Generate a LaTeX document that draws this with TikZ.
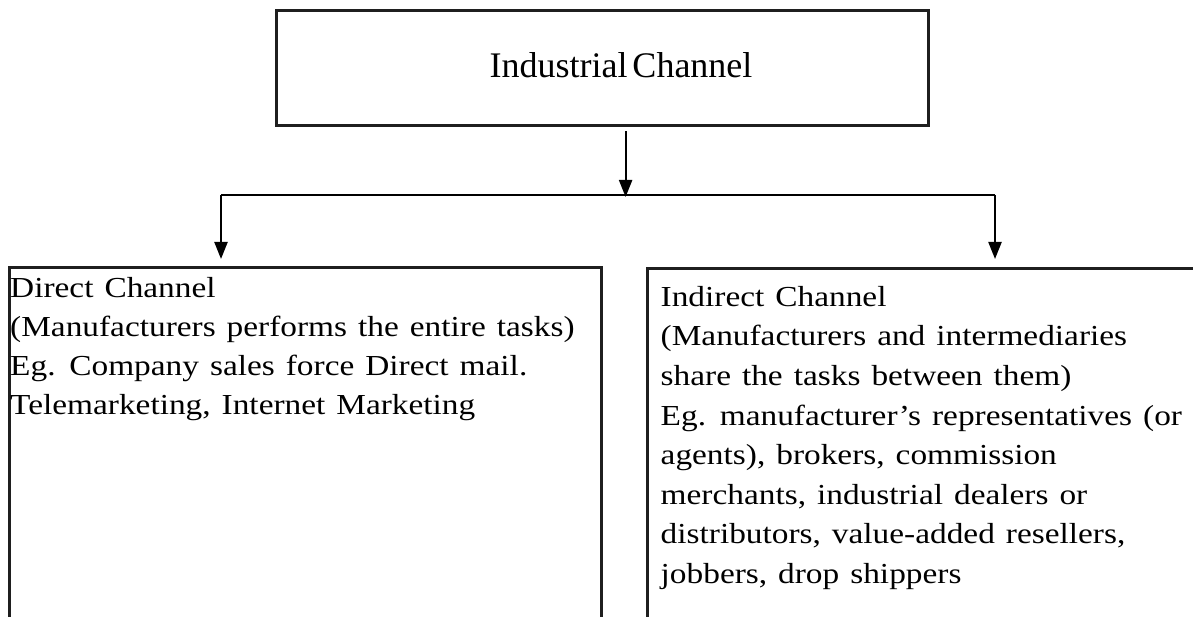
\documentclass[tikz,border=0pt]{standalone}
\usepackage{fontspec}
\setmainfont{Liberation Serif}
\newfontfamily\bodyfont[FakeStretch=1.15]{Liberation Serif}
\usetikzlibrary{arrows.meta}

% body text setting: slightly widened serif with roomy word spaces
\newcommand\bodyset[1]{\bodyfont\fontsize{29}{#1}\selectfont\spaceskip=11pt\relax}

\tikzset{
  boxline/.style={line width=3pt, draw=black!88},
  conn/.style={line width=2.2pt, draw=black},
  arr/.style={conn, -{Triangle[width=13pt,length=17pt]}},
  title/.style={inner sep=0pt, font=\fontsize{36}{40}\selectfont},
  body/.style={inner sep=0pt, align=left, anchor=north west},
}

\begin{document}
\begin{tikzpicture}[x=1pt, y=-1pt]
\useasboundingbox (0,0) rectangle (1193,617);
\clip (0,0) rectangle (1193,617);

% top box and its title
\node[boxline, draw, minimum width=652pt, minimum height=115pt, inner sep=0pt]
  (ic) at (602,68.5) {};
\node[title, anchor=base] (ictext) at (621,78) {\spaceskip=5pt\relax Industrial Channel};

% branching points
\coordinate (fork)  at (625.6,195);
\coordinate (dirin) at (221,259);
\coordinate (indin) at (995,259);

% connectors
\draw[arr] ([yshift=-4pt]ic.south -| fork) -- ([yshift=-2pt]fork);
\draw[conn, line width=2.8pt] (dirin |- fork) -- (indin |- fork);
\draw[arr] (dirin |- fork) -- (dirin);
\draw[arr] (indin |- fork) -- (indin);

% open boxes below
\draw[boxline] (9,630) -- (9,268) -- (601,268) -- (601,630);
\draw[boxline] (647,630) -- (647,269) -- (1210,269);

% box texts
\node[body, font=\bodyset{39}] (direct) at (10,267.7) {%
\rule{0pt}{30pt}Direct Channel\\
(Manufacturers performs the entire tasks)\\
Eg. Company sales force Direct mail.\\
Telemarketing, Internet Marketing};

\node[body, font=\bodyset{39.6}] (indirect) at (660.5,276) {%
\rule{0pt}{30pt}Indirect Channel\\
(Manufacturers and intermediaries\\
share the tasks between them)\\
Eg. manufacturer’s representatives (or\\
agents), brokers, commission\\
merchants, industrial dealers or\\
distributors, value-added resellers,\\
jobbers, drop shippers};
\end{tikzpicture}
\end{document}
